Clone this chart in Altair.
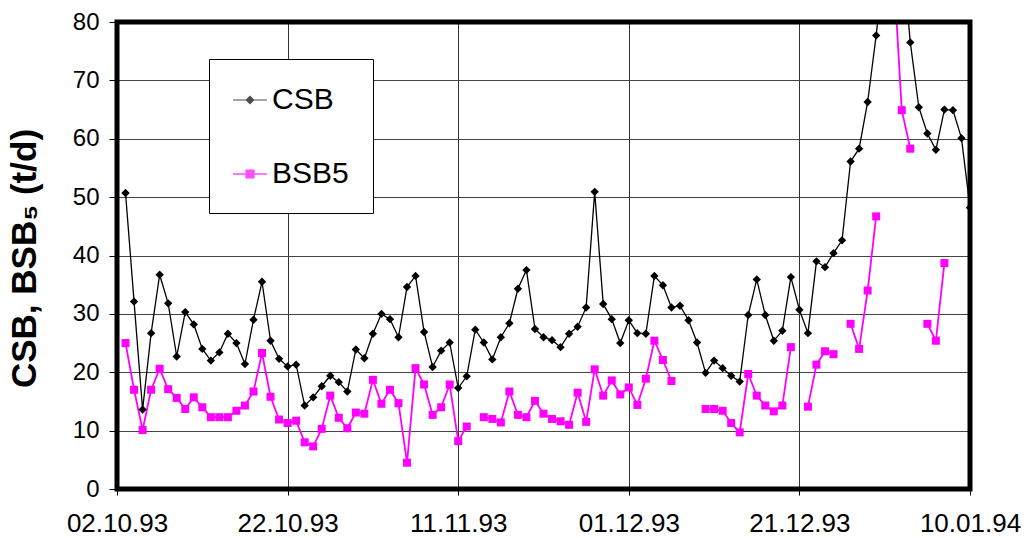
import json
import altair as alt
import pandas as pd

# ---- data (day 1 = 03.10.93, one value per day) ----
days = list(range(1, 101))
csb = [50.7, 32.1, 13.6, 26.7, 36.7, 31.8, 22.7, 30.3, 28.2, 24.0,
       22.0, 23.4, 26.6, 25.0, 21.4, 29.0, 35.5, 25.4, 22.3, 21.0,
       21.3, 14.3, 15.7, 17.6, 19.4, 18.3, 16.7, 23.9, 22.4, 26.6,
       30.0, 29.1, 26.0, 34.6, 36.5, 26.9, 20.9, 23.7, 25.1, 17.3,
       19.3, 27.3, 25.1, 22.2, 26.0, 28.4, 34.3, 37.5, 27.4, 26.0,
       25.5, 24.3, 26.6, 27.8, 31.1, 50.9, 31.7, 29.1, 25.0, 28.9,
       26.7, 26.6, 36.5, 34.9, 31.1, 31.4, 28.9, 25.1, 19.9, 22.0,
       20.7, 19.4, 18.4, 29.8, 35.9, 29.8, 25.4, 27.1, 36.3, 30.7,
       26.7, 39.0, 38.0, 40.4, 42.6, 56.1, 58.3, 66.3, 77.7, 91.0,
       100.0, 93.0, 76.5, 65.4, 60.9, 58.1, 65.0, 64.9, 60.1, 48.2]
bsb5 = [25.0, 17.0, 10.1, 17.0, 20.6, 17.1, 15.6, 13.7, 15.7, 14.0,
        12.3, 12.3, 12.3, 13.4, 14.3, 16.7, 23.3, 15.8, 11.9, 11.3,
        11.7, 8.0, 7.3, 10.3, 16.0, 12.2, 10.4, 13.1, 12.9, 18.7,
        14.6, 17.0, 14.7, 4.5, 20.7, 17.9, 12.7, 14.0, 17.9, 8.2,
        10.7, None, 12.3, 12.0, 11.4, 16.7, 12.7, 12.3, 15.1, 12.9,
        12.0, 11.6, 11.0, 16.5, 11.5, 20.5, 16.0, 18.6, 16.2, 17.4,
        14.4, 18.9, 25.4, 22.1, 18.5, None, None, None, 13.7, 13.7,
        13.4, 11.3, 9.7, 19.7, 16.0, 14.3, 13.3, 14.3, 24.3, None,
        14.1, 21.3, 23.6, 23.1, None, 28.3, 24.0, 34.0, 46.7, None,
        90.0, 64.9, 58.3, None, 28.3, 25.4, 38.7, None, None, None]

tick_days = [0, 20, 40, 60, 80, 100]
tick_labels = ["02.10.93", "22.10.93", "11.11.93", "01.12.93", "21.12.93", "10.01.94"]
y_ticks = [0, 10, 20, 30, 40, 50, 60, 70, 80]
x_range = [0, 100]
y_range = [0, 80]

series_names = ["CSB", "BSB5"]
series_colors = ["#000000", "#FF00FF"]
marker_shapes = ["diamond", "square"]
# legend symbols: a short line with the marker on it (filled paths)
legend_paths = ["M-1,-0.035H1V0.035H-1Z M-0.27,0L0,-0.27L0.27,0L0,0.27Z",
                "M-1,-0.05H1V0.05H-1Z M-0.27,-0.27H0.27V0.27H-0.27Z"]
line_widths = [1.3, 1.8]
marker_sizes = [70, 64]

rows = []
for name, vals in zip(series_names, [csb, bsb5]):
    for d, v in zip(days, vals):
        rows.append({"day": d, "value": v, "series": name})
df = pd.DataFrame(rows)
frame_df = pd.DataFrame({"x0": [x_range[0]], "x1": [x_range[1]],
                         "y0": [y_range[0]], "y1": [y_range[1]]})

FONT = "Liberation Sans"
label_expr = json.dumps(tick_labels) + "[round(datum.value / 20)]"
is_csb = "datum.series == '%s'" % series_names[0]

xscale = alt.Scale(domain=x_range, nice=False, zero=False)
yscale = alt.Scale(domain=y_range, nice=False)

x_enc = alt.X("day:Q", scale=xscale,
              axis=alt.Axis(values=tick_days, labelExpr=label_expr, title=None,
                            grid=True, gridColor="#333333", gridWidth=1,
                            domain=False, ticks=True, tickSize=6, tickColor="black",
                            labelFontSize=26, labelColor="black", labelPadding=15,
                            labelFont=FONT, labelFlush=False, labelOverlap=False))
y_enc = alt.Y("value:Q", scale=yscale,
              axis=alt.Axis(values=y_ticks, title="CSB, BSB\u2085 (t/d)",
                            titleFontSize=35, titleFontWeight="bold", titleFont=FONT,
                            titleColor="black", titleX=-75, titleY=236,
                            grid=True, gridColor="#444444", gridWidth=1,
                            domain=False, tickSize=8, tickColor="black",
                            labelFontSize=24, labelColor="black", labelPadding=10,
                            labelFont=FONT))

lines = alt.Chart(df).mark_line(clip=True).encode(
    x=x_enc, y=y_enc,
    detail="series:N",
    stroke=alt.condition(is_csb, alt.value(series_colors[0]), alt.value(series_colors[1])),
    strokeWidth=alt.condition(is_csb, alt.value(line_widths[0]), alt.value(line_widths[1])),
    order=alt.Order("day:Q"),
)

points = alt.Chart(df).mark_point(filled=True, clip=True, opacity=1).encode(
    x=x_enc, y=y_enc,
    fill=alt.condition(is_csb, alt.value(series_colors[0]), alt.value(series_colors[1])),
    shape=alt.condition(is_csb, alt.value(marker_shapes[0]), alt.value(marker_shapes[1])),
    size=alt.condition(is_csb, alt.value(marker_sizes[0]), alt.value(marker_sizes[1])),
)

leg = alt.Legend(title=None, orient="none", legendX=92, legendY=37,
                 fillColor="white", strokeColor="black", padding=24,
                 labelFontSize=30, labelFont=FONT, labelColor="black",
                 labelOffset=5, labelLimit=400, symbolSize=1156,
                 symbolStrokeWidth=0, rowPadding=42, cornerRadius=0)

legend_layer = alt.Chart(df).transform_filter("false").mark_point(filled=True).encode(
    x=x_enc, y=y_enc,
    color=alt.Color("series:N", scale=alt.Scale(domain=series_names, range=series_colors),
                    legend=leg),
    shape=alt.Shape("series:N", scale=alt.Scale(domain=series_names, range=legend_paths),
                    legend=leg),
)

frame = alt.Chart(frame_df).mark_rect(fill="transparent", stroke="black",
                                      strokeWidth=5).encode(
    x=alt.X("x0:Q", scale=xscale), x2="x1:Q",
    y=alt.Y("y0:Q", scale=yscale), y2="y1:Q",
)

chart = alt.layer(lines, points, legend_layer, frame).properties(
    width=853, height=467,
    autosize=alt.AutoSizeParams(type="none"),
    padding={"left": 117, "top": 22, "right": 56, "bottom": 49},
    background="white",
).configure(font=FONT).configure_view(stroke=None)

chart.save("out.html", embed_options={"renderer": "svg", "actions": False})
